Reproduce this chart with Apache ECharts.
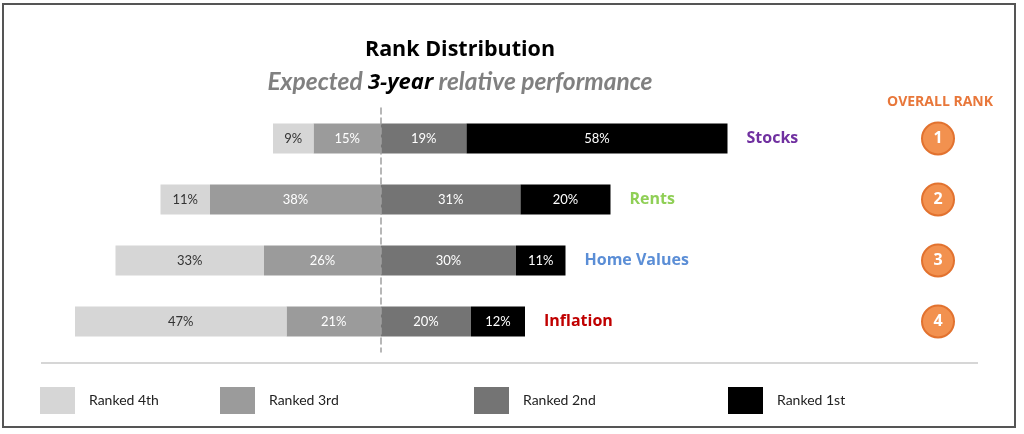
<!DOCTYPE html>
<html>
<head>
<meta charset="utf-8">
<script src="https://cdn.jsdelivr.net/npm/echarts@6/dist/echarts.min.js"></script>
<style>html,body{margin:0;padding:0;background:#fff}#c{width:1024px;height:434px}</style>
</head>
<body>
<div id="c"></div>
<script>
const categories = ['Stocks', 'Rents', 'Home Values', 'Inflation'];
const ranked4th = [9, 11, 33, 47];
const ranked3rd = [15, 38, 26, 21];
const ranked2nd = [19, 31, 30, 20];
const ranked1st = [58, 20, 11, 12];
const overallRank = [1, 2, 3, 4];
const categoryColors = ['#7030A0', '#8FCF55', '#5B8ED6', '#C00000'];
const seriesNames = ['Ranked 4th', 'Ranked 3rd', 'Ranked 2nd', 'Ranked 1st'];
const seriesColors = ['#D6D6D6', '#9B9B9B', '#747474', '#000000'];

const FONT = 'Lato, "Open Sans", sans-serif';
const BFONT = '"Open Sans", Lato, sans-serif';
const chart = echarts.init(document.getElementById('c'), null, {renderer: 'canvas'});

const pctLabel = (color) => ({
  show: true, position: 'inside', color: color, fontSize: 13, fontFamily: FONT,
  formatter: p => Math.abs(p.value) + '%'
});

const barCommon = {type: 'bar', stack: 'total', barWidth: 30, xAxisIndex: 0, yAxisIndex: 0};

const rightEnds = categories.map((c, i) => [ranked2nd[i] + ranked1st[i], c]);

const legendLefts = [40, 220, 474, 728];

const option = {
  animation: false,
  backgroundColor: '#fff',
  title: [
    {text: 'Rank Distribution', left: 455, top: 34, textAlign: 'center',
     textStyle: {fontFamily: BFONT, fontSize: 21.5, fontWeight: 'bold', color: '#000'}},
    {text: '{a|Expected }{b|3-year}{a| relative performance}', left: 455, top: 65, textAlign: 'center',
     textStyle: {rich: {
       a: {fontFamily: FONT, fontSize: 24.5, fontStyle: 'italic', color: '#808080'},
       b: {fontFamily: BFONT, fontSize: 22, fontStyle: 'italic', fontWeight: 'bold', color: '#000'}
     }}},
    {text: 'OVERALL RANK', left: 935, top: 90, textAlign: 'center',
     textStyle: {fontFamily: BFONT, fontSize: 14, fontWeight: 'bold', color: '#E8773A'}}
  ],
  legend: seriesNames.map((n, i) => ({
    data: [n], left: legendLefts[i], top: 387, padding: 0, icon: 'rect', itemWidth: 35, itemHeight: 27,
    selectedMode: false,
    textStyle: {fontFamily: FONT, fontSize: 14, color: '#222', padding: [0, 0, 0, 9]}
  })),
  grid: [
    {left: 66, right: 13, top: 108, bottom: 82},
    {left: 922, width: 32, top: 108, bottom: 82}
  ],
  xAxis: [
    {type: 'value', min: -70, max: 140, show: false, gridIndex: 0},
    {type: 'value', min: 0, max: 1, show: false, gridIndex: 1}
  ],
  yAxis: [
    {type: 'category', data: categories, inverse: true, gridIndex: 0,
     axisLine: {show: true, onZero: true, lineStyle: {color: '#A0A0A0', type: [6, 4], width: 1.5}},
     axisTick: {show: false}, axisLabel: {show: false}, splitLine: {show: false}, z: 5},
    {type: 'category', data: categories, inverse: true, gridIndex: 1, show: false}
  ],
  series: [
    Object.assign({}, barCommon, {name: seriesNames[1], data: ranked3rd.map(v => -v),
      itemStyle: {color: seriesColors[1]}, label: pctLabel('#fff')}),
    Object.assign({}, barCommon, {name: seriesNames[0], data: ranked4th.map(v => -v),
      itemStyle: {color: seriesColors[0]}, label: pctLabel('#333')}),
    Object.assign({}, barCommon, {name: seriesNames[2], data: ranked2nd,
      itemStyle: {color: seriesColors[2]}, label: pctLabel('#fff')}),
    Object.assign({}, barCommon, {name: seriesNames[3], data: ranked1st,
      itemStyle: {color: seriesColors[3]}, label: pctLabel('#fff')}),
    {type: 'scatter', xAxisIndex: 0, yAxisIndex: 0, symbolSize: 0, silent: true,
     itemStyle: {opacity: 1},
     data: rightEnds.map((d, i) => ({value: d, label: {color: categoryColors[i]}})),
     label: {show: true, position: 'right', distance: 19, fontFamily: BFONT, fontSize: 16, fontWeight: 'bold',
             formatter: p => p.value[1]}},
    {type: 'scatter', xAxisIndex: 1, yAxisIndex: 1, symbol: 'circle', symbolSize: 32, silent: true,
     data: overallRank.map((r, i) => [0.5, categories[i], r]),
     itemStyle: {color: '#F2914F', borderColor: '#E2722F', borderWidth: 2, opacity: 1},
     label: {show: true, position: 'inside', color: '#fff', fontFamily: BFONT, fontSize: 16, fontWeight: 'bold',
             formatter: p => p.value[2]}}
  ],
  graphic: [
    {type: 'rect', shape: {x: 3, y: 4, width: 1012, height: 423}, style: {fill: 'none', stroke: '#555', lineWidth: 2}, silent: true},
    {type: 'line', shape: {x1: 41, y1: 363, x2: 978, y2: 363}, style: {stroke: '#C8C8C8', lineWidth: 1.5}, silent: true}
  ]
};
chart.setOption(option);
</script>
</body>
</html>
